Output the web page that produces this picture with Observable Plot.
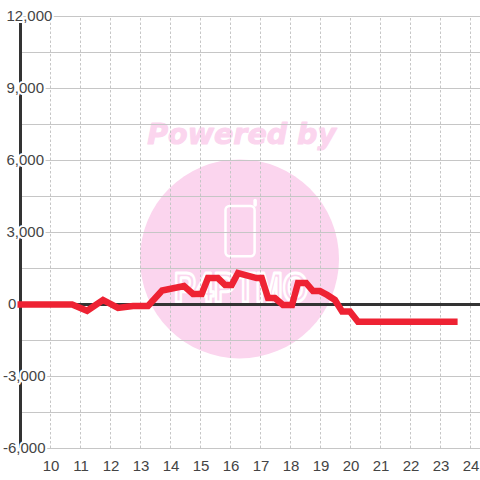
<!DOCTYPE html>
<html>
<head>
<meta charset="utf-8">
<style>html,body{margin:0;padding:0;background:#fff}svg{display:block}</style>
<script src="https://cdn.jsdelivr.net/npm/d3@7"></script>
<script src="https://cdn.jsdelivr.net/npm/@observablehq/plot@0.6"></script>
</head>
<body>
<script>
const hours = [8.9,10.72,11.22,11.75,12.25,12.75,13.25,13.72,14.45,14.75,15.04,15.25,15.58,15.82,16.04,16.25,16.87,17.04,17.25,17.48,17.75,18.05,18.25,18.52,18.75,18.98,19.22,19.48,19.72,19.98,20.25,23.57];
const values = [0,0,-260,190,-145,-60,-60,580,770,440,440,1100,1100,810,810,1310,1100,1100,270,270,-20,-20,900,900,560,560,400,190,-290,-290,-720,-720];
const xTicks = [10,11,12,13,14,15,16,17,18,19,20,21,22,23,24];
const yGrid = [12000,10500,9000,7500,6000,4500,3000,1500,0,-1500,-3000,-4500,-6000];
const yTicks = [12000,9000,6000,3000];
const yTickLabels = ["12,000","9,000","6,000","3,000"];
const yNegTicks = [-3000,-6000];
const yNegLabels = ["-3,000","-6,000"];
const wmCircle = [[16.3,1900]];
const wmTitle = [[16.37,7080,"Powered by"]];
const wmName = [[16.35,670,"P4PTMO"]];
const phoneBox = [{x1:15.85,x2:16.82,y1:1990,y2:4080}];
const phoneAntenna = [[16.82,4150],[16.82,4330]];

const ink = "#444444", grid = "#c6c6c6", pink = "#fbd5ee", red = "#ee2233";
const font = "'Liberation Sans', Arial, sans-serif";
const pts = hours.map((h,i)=>[h,values[i]]);

const plot = Plot.plot({
  width:480, height:480,
  marginTop:0, marginRight:0, marginBottom:0, marginLeft:0,
  style:{background:"#fff", fontFamily:font},
  x:{domain:[10-50/30,10+430/30], range:[0,480], axis:null},
  y:{domain:[304/24*1000,-176/24*1000], range:[0,480], axis:null},
  marks:[
    Plot.dot(wmCircle,{x:d=>d[0],y:d=>d[1],r:99.5,fill:pink}),
    Plot.text(wmTitle,{x:d=>d[0],y:d=>d[1],text:d=>d[2],fill:pink,stroke:pink,strokeWidth:1,fontSize:28.5,fontWeight:"bold",fontStyle:"italic",fontFamily:"'DejaVu Sans'"}),
    Plot.rect(phoneBox,{x1:"x1",x2:"x2",y1:"y1",y2:"y2",fill:"none",stroke:"#fff",strokeWidth:2.5,rx:4}),
    Plot.line(phoneAntenna,{x:d=>d[0],y:d=>d[1],stroke:"#fff",strokeWidth:3.5}),
    Plot.text(wmName,{x:d=>d[0],y:d=>d[1],text:d=>d[2],fill:"none",stroke:"#fff",strokeWidth:3,fontWeight:"bold",fontSize:42,
      render(i,s,v,dim,ctx,next){const g=next(i,s,v,dim,ctx);d3.select(g).selectAll("text").attr("textLength",134).attr("lengthAdjust","spacingAndGlyphs");return g;}}),
    Plot.ruleY(yGrid,{x1:9,x2:24.4,stroke:grid,strokeWidth:1}),
    Plot.ruleX(xTicks,{y1:-6000,y2:12000,stroke:grid,strokeWidth:1,strokeDasharray:"2.5,2"}),
    Plot.ruleY([0],{x1:9,x2:24.4,stroke:"#333",strokeWidth:3}),
    Plot.ruleX([9],{y1:-6000,y2:12000,stroke:"#333",strokeWidth:3}),
    Plot.text(yTicks,{y:d=>d,text:(d,i)=>yTickLabels[i],frameAnchor:"left",textAnchor:"start",dx:6,fill:ink,fontSize:15,stroke:"#fff",strokeWidth:4,paintOrder:"stroke"}),
    Plot.text([0],{y:d=>d,text:()=>"0",frameAnchor:"left",textAnchor:"start",dx:7.5,fill:ink,fontSize:15}),
    Plot.text(yNegTicks,{y:d=>d,text:(d,i)=>yNegLabels[i],frameAnchor:"left",textAnchor:"start",dx:2.5,fill:ink,fontSize:15,stroke:"#fff",strokeWidth:4,paintOrder:"stroke"}),
    Plot.text(xTicks,{x:d=>d,text:d=>String(d),frameAnchor:"bottom",dy:-14,fill:ink,fontSize:15,lineAnchor:"middle",dx:0.5}),
    Plot.line(pts,{x:d=>d[0],y:d=>d[1],stroke:red,strokeWidth:6.5,strokeLinejoin:"miter",strokeLinecap:"butt",strokeMiterlimit:4})
  ]
});
document.body.appendChild(plot);
</script>
</body>
</html>
